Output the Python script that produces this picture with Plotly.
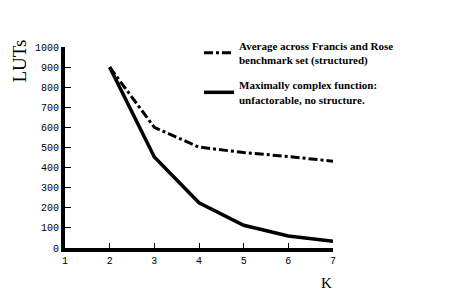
import plotly.graph_objects as go

k_values = [2, 3, 4, 5, 6, 7]
avg_luts = [900, 600, 502, 475, 455, 432]
max_luts = [900, 453, 225, 113, 60, 33]
x_ticks = [1, 2, 3, 4, 5, 6, 7]
y_ticks = [0, 100, 200, 300, 400, 500, 600, 700, 800, 900, 1000]

fig = go.Figure()
fig.add_trace(go.Scatter(
    x=k_values, y=avg_luts, mode="lines", legendgroup="a",
    name="Average across Francis and Rose<br>benchmark set (structured)",
    line=dict(color="black", width=3, dash="dashdot"),
))
fig.add_trace(go.Scatter(
    x=k_values, y=max_luts, mode="lines", legendgroup="b",
    name="Maximally complex function:<br>unfactorable, no structure.",
    line=dict(color="black", width=3.5),
))

fig.update_layout(
    width=470, height=296,
    margin=dict(l=65, r=137, t=47, b=48),
    paper_bgcolor="white", plot_bgcolor="white",
    showlegend=True,
    legend=dict(
        x=0.50, y=1.075, xanchor="left", yanchor="top",
        font=dict(family="Liberation Serif", size=11, color="black", weight="bold"),
        bgcolor="rgba(0,0,0,0)", tracegroupgap=8, itemwidth=30,
    ),
    annotations=[
        dict(text="LUTs", xref="paper", yref="paper", x=-0.17, y=0.93,
             xanchor="center", yanchor="middle", textangle=-90, showarrow=False,
             font=dict(family="Liberation Serif", size=19, color="black")),
        dict(text="K", xref="paper", yref="paper", x=0.975, y=-0.175,
             xanchor="center", yanchor="middle", showarrow=False,
             font=dict(family="Liberation Serif", size=15, color="black")),
    ],
)
fig.update_xaxes(
    range=[1, 7], tickvals=x_ticks, ticks="inside", ticklen=5, tickwidth=1,
    tickcolor="black", showline=True, linecolor="black", linewidth=4,
    showgrid=False, zeroline=False,
    tickfont=dict(family="Liberation Mono", size=10, color="black"),
)
fig.update_yaxes(
    range=[0, 1000], tickvals=y_ticks, ticks="inside", ticklen=6, tickwidth=1,
    tickcolor="black", showline=True, linecolor="black", linewidth=4,
    showgrid=False, zeroline=False,
    tickfont=dict(family="Liberation Mono", size=10, color="black"),
)

fig.write_html("out.html")
